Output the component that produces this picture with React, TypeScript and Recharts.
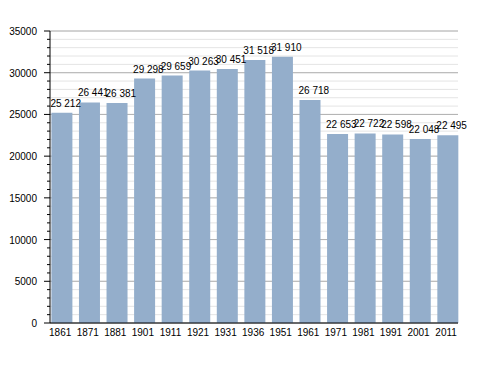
import { BarChart, Bar, XAxis, YAxis, CartesianGrid, LabelList } from "recharts"

const years = ["1861", "1871", "1881", "1901", "1911", "1921", "1931", "1936", "1951", "1961", "1971", "1981", "1991", "2001", "2011"]
const population = [25212, 26441, 26381, 29298, 29659, 30263, 30451, 31518, 31910, 26718, 22653, 22722, 22598, 22048, 22495]
const minorTicks = [0, 1000, 2000, 3000, 4000, 5000, 6000, 7000, 8000, 9000, 10000, 11000, 12000, 13000, 14000, 15000, 16000, 17000, 18000, 19000, 20000, 21000, 22000, 23000, 24000, 25000, 26000, 27000, 28000, 29000, 30000, 31000, 32000, 33000, 34000, 35000]
const majorTicks = [0, 5000, 10000, 15000, 20000, 25000, 30000, 35000]

const data = years.map((year, i) => ({ year, pop: population[i] }))

// espace comme séparateur de milliers
const fmt = (v: number) => String(v).replace(/\B(?=(\d{3})+(?!\d))/g, " ")

function YTick(props: any) {
    const { x, y, payload } = props
    const major = payload.value % 5000 === 0
    return (
        <g>
            <line x1={x - (major ? 6 : 3)} y1={y} x2={x} y2={y} stroke="#000" />
            {major && (
                <text x={x - 13} y={y} dy={4} textAnchor="end" fontSize={10} fill="#000">
                    {payload.value}
                </text>
            )}
        </g>
    )
}

function TopLabel(props: any) {
    const { x, y, value } = props
    return (
        <text x={x - 1} y={y - 6} textAnchor="start" fontSize={10} fill="#000">
            {fmt(value)}
        </text>
    )
}

export default function App() {
    return (
        <div style={{ position: "absolute", left: 0, top: 0, fontFamily: "'Liberation Sans', Arial, sans-serif" }}>
            <BarChart width={488} height={373} data={data} margin={{ top: 31, right: 30, left: 0, bottom: 0 }}>
                <CartesianGrid vertical={false} horizontalValues={minorTicks} stroke="#e4e4e4" />
                <CartesianGrid vertical={false} horizontalValues={majorTicks} stroke="#b2b2b2" />
                <XAxis
                    dataKey="year"
                    height={50}
                    padding={{ left: -1.6, right: -3.9 }}
                    axisLine={{ stroke: "#000" }}
                    tickLine={false}
                    tickSize={6}
                    tickMargin={0}
                    interval={0}
                    tick={{ fill: "#000", fontSize: 10, dx: -2 }}
                />
                <YAxis
                    width={50}
                    domain={[0, 35000]}
                    ticks={minorTicks}
                    interval={0}
                    axisLine={{ stroke: "#000" }}
                    tickLine={false}
                    tickSize={0}
                    tickMargin={0}
                    tick={<YTick />}
                />
                <Bar dataKey="pop" fill="#94aecb" barSize={21} isAnimationActive={false}>
                    <LabelList dataKey="pop" content={<TopLabel />} />
                </Bar>
            </BarChart>
        </div>
    )
}
